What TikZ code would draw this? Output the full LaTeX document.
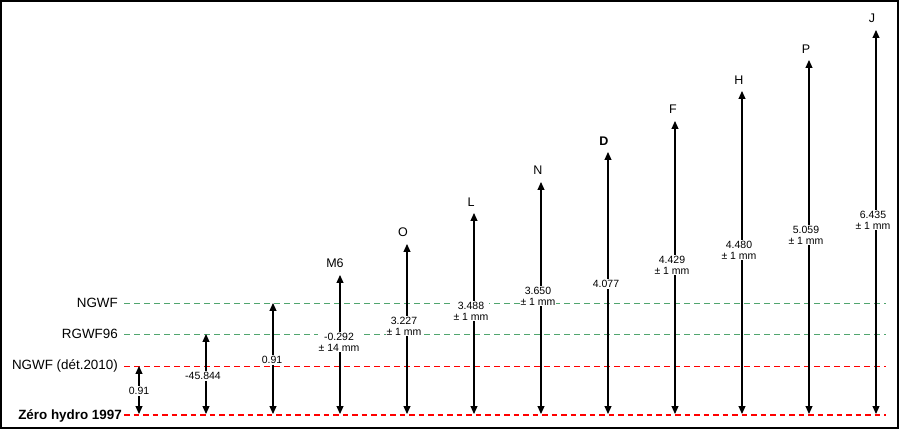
\documentclass[tikz,border=0pt]{standalone}
\usepackage{fontspec}
\setmainfont{Liberation Sans}
\usetikzlibrary{arrows.meta}
\definecolor{levelgreen}{RGB}{80,165,110}

\begin{document}
\begin{tikzpicture}[x=1pt, y=-1pt,
    level/.style={dash pattern=on 6pt off 4pt, line width=0.8pt},
    zeroline/.style={red, dash pattern=on 5.5pt off 4pt, line width=2.8pt},
    dim/.style={{Triangle[width=7pt,length=8pt]}-{Triangle[width=7pt,length=8pt]}, line width=1.1pt},
    levellabel/.style={anchor=east, inner sep=0, font=\fontsize{13.4}{15}\selectfont},
    pointname/.style={inner sep=0, font=\fontsize{12.5}{14}\selectfont},
    valuebox/.style={fill=white, inner sep=1pt, align=center, font=\fontsize{10.5}{11}\selectfont}]
        \useasboundingbox (0,0) rectangle (900,430);
        \draw[line width=2pt] (1,1) rectangle (898,428);

        % reference levels
        \node (lngwf) [levellabel] at (118, 303) {NGWF};
        \node (lrgwf) [levellabel] at (118, 334) {RGWF96};
        \node (ldet) [levellabel] at (118, 366) {NGWF (dét.2010)};
        \node (lzero) [levellabel, font=\fontsize{13.4}{15}\selectfont\bfseries] at (122, 416) {Zéro hydro 1997};

        \coordinate (ngwfW) at (124, 303);  \coordinate (ngwfE) at (886, 303);
        \coordinate (rgwfW) at (124, 334);  \coordinate (rgwfE) at (886, 334);
        \coordinate (detW) at (124, 366);   \coordinate (detE) at (886, 366);
        \coordinate (zeroW) at (124, 415);  \coordinate (zeroE) at (886, 415);

        \draw[level, levelgreen] (ngwfW) -- (ngwfE);
        \draw[level, levelgreen] (rgwfW) -- (rgwfE);
        \draw[level, red] (detW) -- (detE);
        \draw[zeroline] (zeroW) -- (zeroE);

        % bottoms of the arrows
        \coordinate (b1) at (139, 414);
        \coordinate (b2) at (206, 414);
        \coordinate (b3) at (273, 414);
        \coordinate (b4) at (340, 414);
        \coordinate (b5) at (407, 414);
        \coordinate (b6) at (474, 414);
        \coordinate (b7) at (541, 414);
        \coordinate (b8) at (608, 414);
        \coordinate (b9) at (675, 414);
        \coordinate (b10) at (742, 414);
        \coordinate (b11) at (809, 414);
        \coordinate (b12) at (876, 414);

        % tops of the arrows
        \coordinate (t1) at (139, 366);
        \coordinate (t2) at (206, 334);
        \coordinate (t3) at (273, 303);
        \coordinate (t4) at (340, 275);
        \coordinate (t5) at (407, 244);
        \coordinate (t6) at (474, 213);
        \coordinate (t7) at (541, 182);
        \coordinate (t8) at (608, 152);
        \coordinate (t9) at (675, 121);
        \coordinate (t10) at (742, 91);
        \coordinate (t11) at (809, 60);
        \coordinate (t12) at (876, 30);

        \node (pm6) [pointname] at (335, 263) {M6};
        \node (po) [pointname] at (403, 232) {O};
        \node (pl) [pointname] at (471, 202) {L};
        \node (pn) [pointname] at (538, 170) {N};
        \node (pd) [pointname, font=\fontsize{12.5}{14}\selectfont\bfseries] at (604, 141) {D};
        \node (pf) [pointname] at (673, 109) {F};
        \node (ph) [pointname] at (739, 80) {H};
        \node (pp) [pointname] at (806, 49) {P};
        \node (pj) [pointname] at (872, 18) {J};

        \draw[dim] (b1) -- (t1);
        \draw[dim] (b2) -- (t2);
        \draw[dim] (b3) -- (t3);
        \draw[dim] (b4) -- (t4);
        \draw[dim] (b5) -- (t5);
        \draw[dim] (b6) -- (t6);
        \draw[dim] (b7) -- (t7);
        \draw[dim] (b8) -- (t8);
        \draw[dim] (b9) -- (t9);
        \draw[dim] (b10) -- (t10);
        \draw[dim] (b11) -- (t11);
        \draw[dim] (b12) -- (t12);

        % values
        \node (v1) [valuebox] at (139, 391) {0.91};
        \node (v2) [valuebox] at (203, 376) {-45.844};
        \node (v3) [valuebox] at (272, 360) {0.91};
        \node (v4) [valuebox] at (339, 342) {-0.292\\± 14 mm};
        \node (v5) [valuebox] at (404, 326) {3.227\\± 1 mm};
        \node (v6) [valuebox] at (471, 311) {3.488\\± 1 mm};
        \node (v7) [valuebox] at (538, 296) {3.650\\± 1 mm};
        \node (v8) [valuebox] at (606, 284) {4.077};
        \node (v9) [valuebox] at (672, 265) {4.429\\± 1 mm};
        \node (v10) [valuebox] at (739, 250) {4.480\\± 1 mm};
        \node (v11) [valuebox] at (806, 235) {5.059\\± 1 mm};
        \node (v12) [valuebox] at (873, 220) {6.435\\± 1 mm};
      \end{tikzpicture}
\end{document}
